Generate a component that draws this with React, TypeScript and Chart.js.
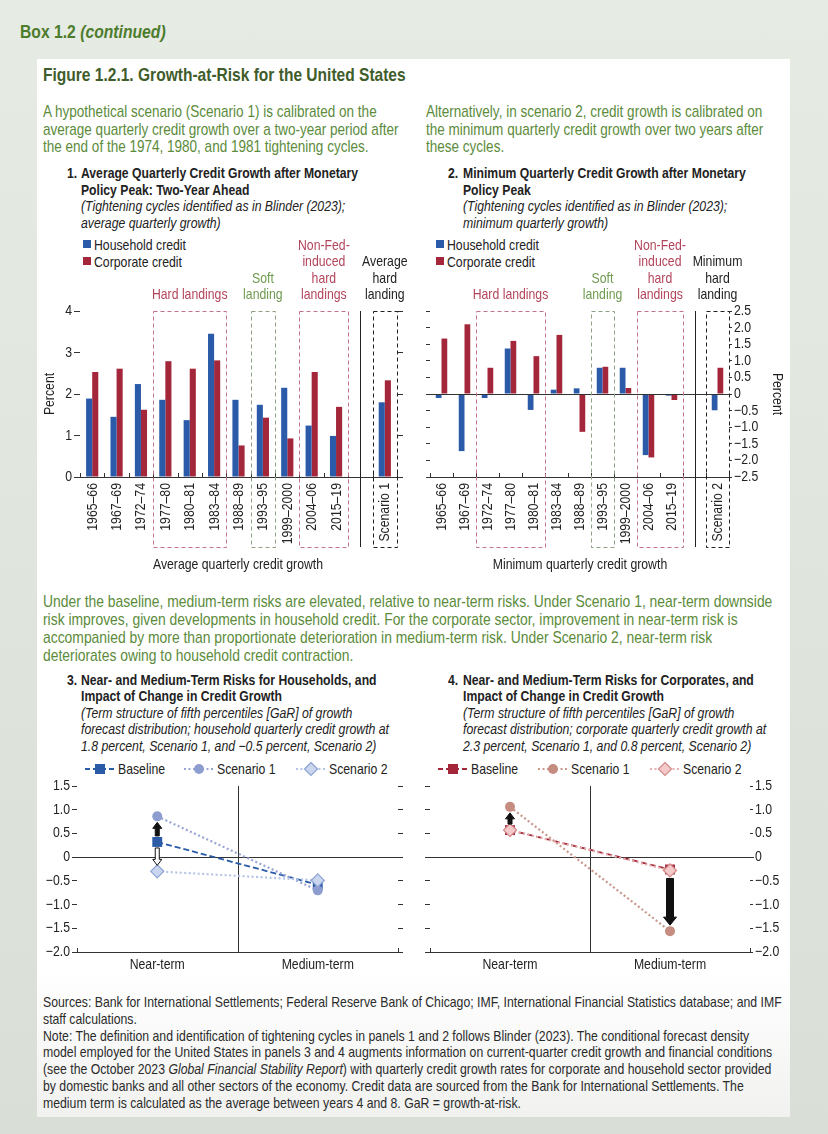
import React, { useEffect, useRef } from 'react';
import { Chart, registerables } from 'chart.js';

Chart.register(...registerables);

const FONT = '"Liberation Sans", Arial, sans-serif';
const S = 0.84; // horizontal condensing of all text

// ---------------- data ----------------
const periods = ['1965–66', '1967–69', '1972–74', '1977–80', '1980–81', '1983–84', '1988–89', '1993–95', '1999–2000', '2004–06', '2015–19'];
const panel1Labels = [...periods, '', 'Scenario 1'];
const panel2Labels = [...periods, '', 'Scenario 2'];

const avgHousehold = [1.89, 1.45, 2.24, 1.86, 1.37, 3.45, 1.86, 1.74, 2.15, 1.24, 0.99, null, 1.8];
const avgCorporate = [2.53, 2.61, 1.62, 2.79, 2.61, 2.81, 0.76, 1.43, 0.93, 2.53, 1.69, null, 2.33];
const minHousehold = [-0.12, -1.72, -0.12, 1.37, -0.48, 0.13, 0.17, 0.79, 0.79, -1.84, -0.05, null, -0.49];
const minCorporate = [1.67, 2.1, 0.79, 1.6, 1.14, 1.78, -1.14, 0.82, 0.18, -1.91, -0.18, null, 0.79];

const horizons = ['Near-term', 'Medium-term'];
const hhBaseline = [0.32, -0.58];
const hhScenario1 = [0.86, -0.7];
const hhScenario2 = [-0.3, -0.49];
const corpBaseline = [0.57, -0.26];
const corpScenario1 = [1.06, -1.56];
const corpScenario2 = [0.57, -0.28];

// category index ranges of the highlighted groups
const HARD_TXT = '#b3455a';
const HARD_BOX = '#c27385';
const SOFT_TXT = '#6e9a4f';
const SOFT_BOX = '#8fa184';
const panel1Groups = [
  { from: 3, to: 5, lines: ['Hard landings'], color: HARD_TXT, box: HARD_BOX },
  { from: 7, to: 7, lines: ['Soft', 'landing'], color: SOFT_TXT, box: SOFT_BOX },
  { from: 9, to: 10, lines: ['Non-Fed-', 'induced', 'hard', 'landings'], color: HARD_TXT, box: HARD_BOX },
  { from: 12, to: 12, lines: ['Average', 'hard', 'landing'], color: '#222', box: '#222' },
];
const panel2Groups = [
  { from: 2, to: 4, lines: ['Hard landings'], color: HARD_TXT, box: HARD_BOX },
  { from: 7, to: 7, lines: ['Soft', 'landing'], color: SOFT_TXT, box: SOFT_BOX },
  { from: 9, to: 10, lines: ['Non-Fed-', 'induced', 'hard', 'landings'], color: HARD_TXT, box: HARD_BOX },
  { from: 12, to: 12, lines: ['Minimum', 'hard', 'landing'], color: '#222', box: '#222' },
];

const BLUE = '#2b5ba8';
const RED = '#a3263a';

const fmt1 = (v: number) => {
  const r = Math.round(v * 10) / 10;
  if (r === 0) return '0';
  const s = Math.abs(r).toFixed(1);
  return r < 0 ? '\u2212' + s : s;
};
const fmt0 = (v: number) => String(Math.round(v));

// ---------------- canvas text helper (condensed) ----------------
function ctext(ctx: any, text: string, x: number, y: number, o: any = {}) {
  ctx.save();
  ctx.translate(x, y);
  if (o.rotate) ctx.rotate(o.rotate);
  ctx.scale(S, 1);
  ctx.font = `${o.bold ? 'bold ' : ''}${o.size || 14.6}px ${FONT}`;
  ctx.fillStyle = o.color || '#222';
  ctx.textAlign = o.align || 'center';
  ctx.textBaseline = 'middle';
  ctx.fillText(text, 0, 0);
  ctx.restore();
}

function drawAxisLabels(chart: any, o: any) {
  const { ctx, chartArea: ca } = chart;
  const xs = chart.scales.x;
  const labels: string[] = chart.data.labels;
  labels.forEach((t, i) => {
    if (!t) return;
    const px = xs.getPixelForValue(i);
    if (o.rotateX) ctext(ctx, t, px + 0.5, ca.bottom + 6, { rotate: -Math.PI / 2, align: 'right' });
    else ctext(ctx, t, px, ca.bottom + 13, { align: 'center' });
  });
  const ys = chart.scales.yl;
  ys.ticks.forEach((tk: any, i: number) => {
    const py = ys.getPixelForTick(i);
    const t = o.fmt(tk.value);
    if (o.leftLabels) ctext(ctx, t, ca.left - o.leftTick - 2, py, { align: 'right' });
    if (o.rightLabels) ctext(ctx, t, ca.right + o.rightTick + 2, py, { align: 'left' });
  });
  const cy = (ca.top + ca.bottom) / 2;
  if (o.leftTitle) ctext(ctx, 'Percent', ca.left - 30, cy, { rotate: -Math.PI / 2 });
  if (o.rightTitle) ctext(ctx, 'Percent', ca.right + 48, cy, { rotate: Math.PI / 2 });
}

// ---------------- plugins ----------------
const barDecor = {
  id: 'barDecor',
  afterDatasetsDraw(chart: any, _a: any, opts: any) {
    const { ctx, chartArea: ca } = chart;
    const xs = chart.scales.x;
    const ys = chart.scales.yl;
    const n = chart.data.labels.length;
    const step = (ca.right - ca.left) / n;
    drawAxisLabels(chart, opts);
    ctx.save();
    ctx.lineWidth = 1;
    ctx.strokeStyle = '#333';
    if (opts.zero) {
      const y0 = Math.round(ys.getPixelForValue(0)) + 0.5;
      ctx.beginPath();
      ctx.moveTo(ca.left, y0);
      ctx.lineTo(ca.right, y0);
      ctx.stroke();
    }
    for (let i = 0; i <= n; i++) {
      const px = Math.round(ca.left + i * step) + 0.5;
      ctx.beginPath();
      ctx.moveTo(px, ca.bottom);
      ctx.lineTo(px, ca.bottom - 4);
      ctx.stroke();
    }
    const bottom = ca.bottom + opts.extend;
    const sx = Math.round(xs.getPixelForValue(opts.sep)) + 0.5;
    ctx.strokeStyle = '#222';
    ctx.beginPath();
    ctx.moveTo(sx, ca.top);
    ctx.lineTo(sx, bottom);
    ctx.stroke();
    for (const g of opts.groups) {
      const l = xs.getPixelForValue(g.from) - step / 2;
      const r = xs.getPixelForValue(g.to) + step / 2;
      ctx.setLineDash([4, 3]);
      ctx.strokeStyle = g.box;
      ctx.strokeRect(Math.round(l) + 0.5, Math.round(ca.top) + 0.5, Math.round(r - l), Math.round(bottom - ca.top));
      ctx.setLineDash([]);
      const cx = (l + r) / 2;
      const lines: string[] = g.lines;
      lines.forEach((t, k) => {
        ctext(ctx, t, cx, ca.top - 16 - (lines.length - 1 - k) * 16.3, { color: g.color });
      });
    }
    ctx.restore();
  },
};

const lineDecor = {
  id: 'lineDecor',
  beforeDatasetsDraw(chart: any) {
    const { ctx, chartArea: ca } = chart;
    const xs = chart.scales.x;
    const ys = chart.scales.yl;
    ctx.save();
    ctx.lineWidth = 1;
    ctx.strokeStyle = '#333';
    const y0 = Math.round(ys.getPixelForValue(0)) + 0.5;
    ctx.beginPath();
    ctx.moveTo(ca.left - 4, y0);
    ctx.lineTo(ca.right + 4, y0);
    ctx.stroke();
    const mx = Math.round((xs.getPixelForValue(0) + xs.getPixelForValue(1)) / 2) + 0.5;
    ctx.beginPath();
    ctx.moveTo(mx, ca.top);
    ctx.lineTo(mx, ca.bottom);
    ctx.stroke();
    [ca.left, ca.right].forEach((x: number) => {
      const px = Math.round(x) + 0.5;
      ctx.beginPath();
      ctx.moveTo(px, ca.bottom);
      ctx.lineTo(px, ca.bottom - 4);
      ctx.stroke();
    });
    ctx.restore();
  },
  afterDatasetsDraw(chart: any, _a: any, opts: any) {
    const { ctx } = chart;
    const xs = chart.scales.x;
    const ys = chart.scales.yl;
    drawAxisLabels(chart, opts);
    ctx.save();
    for (const a of opts.arrows) {
      const x = xs.getPixelForValue(a.i);
      const y1 = ys.getPixelForValue(a.from);
      const y2 = ys.getPixelForValue(a.to);
      const dir = Math.sign(y2 - y1);
      const ya = y1 + dir * a.gapFrom;
      const ye = y2 - dir * a.gapTo;
      const hb = ye - dir * a.headLen;
      ctx.beginPath();
      ctx.moveTo(x - a.shaft / 2, ya);
      ctx.lineTo(x - a.shaft / 2, hb);
      ctx.lineTo(x - a.head / 2, hb);
      ctx.lineTo(x, ye);
      ctx.lineTo(x + a.head / 2, hb);
      ctx.lineTo(x + a.shaft / 2, hb);
      ctx.lineTo(x + a.shaft / 2, ya);
      ctx.closePath();
      ctx.fillStyle = a.fill;
      ctx.fill();
      ctx.strokeStyle = '#111';
      ctx.lineWidth = 1;
      ctx.stroke();
    }
    ctx.restore();
  },
};

// ---------------- configs ----------------
function barConfig(labels: string[], household: any[], corporate: any[], p: any) {
  return {
    type: 'bar',
    data: {
      labels,
      datasets: [
        { label: 'Household credit', data: household, backgroundColor: BLUE, yAxisID: 'yl', categoryPercentage: 0.5, barPercentage: 1 },
        { label: 'Corporate credit', data: corporate, backgroundColor: RED, yAxisID: 'yl', categoryPercentage: 0.5, barPercentage: 1 },
      ],
    },
    options: {
      responsive: false,
      animation: false,
      events: [],
      layout: { padding: { top: 76, left: 0, right: 0, bottom: 0 } },
      plugins: {
        legend: { display: false },
        tooltip: { enabled: false },
        barDecor: { groups: p.groups, sep: 11, extend: 70, zero: p.zero, rotateX: true, fmt: p.fmt, leftLabels: p.leftLabels, rightLabels: p.rightLabels, leftTitle: p.leftTitle, rightTitle: p.rightTitle, leftTick: p.leftTick, rightTick: p.rightTick },
      },
      scales: {
        x: {
          type: 'category',
          offset: true,
          grid: { display: true, drawOnChartArea: false, drawTicks: false },
          border: { display: true, color: '#333', width: 1 },
          ticks: { display: false, autoSkip: false },
          afterFit: (s: any) => { s.height = 88; },
        },
        yl: {
          type: 'linear',
          position: 'left',
          min: p.min,
          max: p.max,
          ticks: { stepSize: p.step, display: false, autoSkip: false },
          grid: { drawOnChartArea: false, drawTicks: true, tickLength: p.leftTick, color: '#333' },
          border: { display: false },
          afterFit: (s: any) => { s.width = p.leftW; },
        },
        yr: {
          type: 'linear',
          position: 'right',
          min: p.min,
          max: p.max,
          ticks: { stepSize: p.step, display: false, autoSkip: false },
          grid: { drawOnChartArea: false, drawTicks: true, tickLength: p.rightTick, color: '#333' },
          border: { display: false },
          afterFit: (s: any) => { s.width = p.rightW; },
        },
      },
    },
    plugins: [barDecor],
  };
}

function lineConfig(base: number[], s1: number[], s2: number[], c: any, p: any) {
  return {
    type: 'line',
    data: {
      labels: horizons,
      datasets: [
        { label: 'Baseline', data: base, yAxisID: 'yl', order: 3, borderColor: c.base, backgroundColor: c.base, borderWidth: 1.8, borderDash: [6, 3], pointStyle: 'rect', pointRadius: 7, pointBorderWidth: 0, pointBackgroundColor: c.base, pointBorderColor: c.base },
        { label: 'Scenario 1', data: s1, yAxisID: 'yl', order: 2, borderColor: c.s1Line, backgroundColor: c.s1, borderWidth: 2.2, borderDash: [2, 2.5], pointStyle: 'circle', pointRadius: 5, pointBorderWidth: 0, pointBackgroundColor: c.s1, pointBorderColor: c.s1 },
        { label: 'Scenario 2', data: s2, yAxisID: 'yl', order: 1, borderColor: c.s2Line, backgroundColor: c.s2Fill, borderWidth: 2.2, borderDash: [2, 2.5], pointStyle: 'rectRot', pointRadius: 6.5, pointBorderWidth: 1.3, pointBackgroundColor: c.s2Fill, pointBorderColor: c.s2Border },
      ],
    },
    options: {
      responsive: false,
      animation: false,
      events: [],
      layout: { padding: { top: 16, left: 0, right: 0, bottom: 0 } },
      plugins: {
        legend: { display: false },
        tooltip: { enabled: false },
        lineDecor: { arrows: p.arrows, rotateX: false, fmt: fmt1, leftLabels: p.leftLabels, rightLabels: p.rightLabels, leftTick: 5, rightTick: p.rightTick },
      },
      scales: {
        x: {
          type: 'category',
          offset: true,
          grid: { display: true, drawOnChartArea: false, drawTicks: false },
          border: { display: true, color: '#333', width: 1 },
          ticks: { display: false },
          afterFit: (s: any) => { s.height = 23; },
        },
        yl: {
          type: 'linear',
          position: 'left',
          min: -2,
          max: 1.5,
          ticks: { stepSize: 0.5, display: false, autoSkip: false },
          grid: { drawOnChartArea: false, drawTicks: true, tickLength: 5, color: '#333' },
          border: { display: false },
          afterFit: (s: any) => { s.width = p.leftW; },
        },
        yr: {
          type: 'linear',
          position: 'right',
          min: -2,
          max: 1.5,
          ticks: { stepSize: 0.5, display: false, autoSkip: false },
          grid: { drawOnChartArea: false, drawTicks: true, tickLength: p.rightTick, color: '#333' },
          border: { display: false },
          afterFit: (s: any) => { s.width = p.rightW; },
        },
      },
    },
    plugins: [lineDecor],
  };
}

// ---------------- components ----------------
function ChartBox({ left, top, width, height, make }: any) {
  const ref = useRef<HTMLCanvasElement>(null);
  useEffect(() => {
    const chart = new Chart(ref.current as HTMLCanvasElement, make() as any);
    return () => chart.destroy();
  }, []);
  return (
    <div style={{ position: 'absolute', left, top, width, height }}>
      <canvas ref={ref} width={width} height={height} style={{ width, height, display: 'block' }} />
    </div>
  );
}

function Txt({ x, y, size = 14.6, color = '#222', bold = false, italic = false, center = false, children }: any) {
  const lh = Math.round(size * 1.25);
  const style: React.CSSProperties = {
    position: 'absolute',
    top: y - lh / 2,
    lineHeight: lh + 'px',
    fontSize: size,
    fontFamily: FONT,
    fontWeight: bold ? 700 : 400,
    fontStyle: italic ? 'italic' : 'normal',
    color,
    whiteSpace: 'nowrap',
  };
  if (center) {
    style.left = x - 400;
    style.width = 800;
    style.textAlign = 'center';
    style.transform = `scaleX(${S})`;
    style.transformOrigin = '50% 50%';
  } else {
    style.left = x;
    style.transform = `scaleX(${S})`;
    style.transformOrigin = '0 50%';
  }
  return <div style={style}>{children}</div>;
}

function Square({ x, y, color }: any) {
  return <div style={{ position: 'absolute', left: x, top: y - 4, width: 8, height: 8, background: color }} />;
}

function LegendItem({ x, y, line, dash, marker, fill, stroke, label }: any) {
  return (
    <>
      <svg style={{ position: 'absolute', left: x, top: y - 7, overflow: 'visible' }} width={30} height={14}>
        <line x1={0} y1={7} x2={30} y2={7} stroke={line} strokeWidth={1.8} strokeDasharray={dash} />
        {marker === 'rect' && <rect x={10} y={2} width={10} height={10} fill={fill} />}
        {marker === 'circle' && <circle cx={15} cy={7} r={5} fill={fill} />}
        {marker === 'diamond' && <polygon points="15,0.5 21.5,7 15,13.5 8.5,7" fill={fill} stroke={stroke} strokeWidth={1.2} />}
      </svg>
      <Txt x={x + 33} y={y}>{label}</Txt>
    </>
  );
}

const GREEN_T = '#4d7c2d';
const GREEN_P = '#5b8b3b';
const HH = { base: '#2b5aa6', s1: '#8e9dcf', s1Line: '#98a6d5', s2Fill: '#c9d6ee', s2Border: '#8ca3d3', s2Line: '#b3c4e6' };
const CO = { base: '#a3263a', s1: '#c58d80', s1Line: '#c9968a', s2Fill: '#f4c9c9', s2Border: '#d48a8a', s2Line: '#e6b0b0' };

export default function App() {
  const leftPara = [
    'A hypothetical scenario (Scenario 1) is calibrated on the',
    'average quarterly credit growth over a two-year period after',
    'the end of the 1974, 1980, and 1981 tightening cycles.',
  ];
  const rightPara = [
    'Alternatively, in scenario 2, credit growth is calibrated on',
    'the minimum quarterly credit growth over two years after',
    'these cycles.',
  ];
  const midPara = [
    'Under the baseline, medium-term risks are elevated, relative to near-term risks. Under Scenario 1, near-term downside',
    'risk improves, given developments in household credit. For the corporate sector, improvement in near-term risk is',
    'accompanied by more than proportionate deterioration in medium-term risk. Under Scenario 2, near-term risk',
    'deteriorates owing to household credit contraction.',
  ];
  const notes: any[] = [
    'Sources: Bank for International Settlements; Federal Reserve Bank of Chicago; IMF, International Financial Statistics database; and IMF',
    'staff calculations.',
    'Note: The definition and identification of tightening cycles in panels 1 and 2 follows Blinder (2023). The conditional forecast density',
    'model employed for the United States in panels 3 and 4 augments information on current-quarter credit growth and financial conditions',
    <>(see the October 2023 <i>Global Financial Stability Report</i>) with quarterly credit growth rates for corporate and household sector provided</>,
    'by domestic banks and all other sectors of the economy. Credit data are sourced from the Bank for International Settlements. The',
    'medium term is calculated as the average between years 4 and 8. GaR = growth-at-risk.',
  ];

  return (
    <div style={{ position: 'absolute', left: 0, top: 0, width: 828, height: 1134, overflow: 'hidden', background: 'linear-gradient(#e6ebe3, #d9ded6)' }}>
      <div style={{ position: 'absolute', left: 37, top: 59, width: 753, height: 1058, background: 'linear-gradient(#ffffff 86%, #f1f2f0 100%)' }} />

      <Txt x={20} y={31} size={18.7} bold color={GREEN_T}>Box 1.2 <i>(continued)</i></Txt>
      <Txt x={43} y={74} size={18.5} bold color="#3f5d2b">Figure 1.2.1. Growth-at-Risk for the United States</Txt>

      {leftPara.map((t, i) => <Txt key={'lp' + i} x={43} y={111 + i * 17.6} size={16.1} color={GREEN_P}>{t}</Txt>)}
      {rightPara.map((t, i) => <Txt key={'rp' + i} x={426} y={111 + i * 17.6} size={16.1} color={GREEN_P}>{t}</Txt>)}

      {/* Panel 1 header */}
      <Txt x={67} y={173} size={14.5} bold>1.</Txt>
      <Txt x={81} y={173} size={14.5} bold>Average Quarterly Credit Growth after Monetary</Txt>
      <Txt x={81} y={189.5} size={14.5} bold>Policy Peak: Two-Year Ahead</Txt>
      <Txt x={81} y={206} italic>(Tightening cycles identified as in Blinder (2023);</Txt>
      <Txt x={81} y={222.5} italic>average quarterly growth)</Txt>
      <Square x={83} y={244} color={BLUE} />
      <Txt x={94} y={245}>Household credit</Txt>
      <Square x={83} y={261} color={RED} />
      <Txt x={94} y={262}>Corporate credit</Txt>

      {/* Panel 2 header */}
      <Txt x={448} y={173} size={14.5} bold>2.</Txt>
      <Txt x={463} y={173} size={14.5} bold>Minimum Quarterly Credit Growth after Monetary</Txt>
      <Txt x={463} y={189.5} size={14.5} bold>Policy Peak</Txt>
      <Txt x={463} y={206} italic>(Tightening cycles identified as in Blinder (2023);</Txt>
      <Txt x={463} y={222.5} italic>minimum quarterly growth)</Txt>
      <Square x={436} y={244} color={BLUE} />
      <Txt x={447} y={245}>Household credit</Txt>
      <Square x={436} y={261} color={RED} />
      <Txt x={447} y={262}>Corporate credit</Txt>

      <ChartBox left={40} top={235} width={380} height={330}
        make={() => barConfig(panel1Labels, avgHousehold, avgCorporate, { groups: panel1Groups, zero: false, min: 0, max: 4, step: 1, fmt: fmt0, leftLabels: true, rightLabels: false, leftTitle: true, rightTitle: false, leftW: 40, rightW: 23, leftTick: 6, rightTick: 6 })} />
      <ChartBox left={420} top={235} width={380} height={330}
        make={() => barConfig(panel2Labels, minHousehold, minCorporate, { groups: panel2Groups, zero: true, min: -2.5, max: 2.5, step: 0.5, fmt: fmt1, leftLabels: false, rightLabels: true, leftTitle: false, rightTitle: true, leftW: 10, rightW: 71, leftTick: 4, rightTick: 3 })} />

      <Txt x={238} y={564} center>Average quarterly credit growth</Txt>
      <Txt x={580} y={564} center>Minimum quarterly credit growth</Txt>

      {midPara.map((t, i) => <Txt key={'mp' + i} x={43} y={601 + i * 18} size={16.55} color={GREEN_P}>{t}</Txt>)}

      {/* Panel 3 header */}
      <Txt x={67} y={679.5} size={14.5} bold>3.</Txt>
      <Txt x={81} y={679.5} size={14.5} bold>Near- and Medium-Term Risks for Households, and</Txt>
      <Txt x={81} y={695.5} size={14.5} bold>Impact of Change in Credit Growth</Txt>
      <Txt x={81} y={712.5} italic>(Term structure of fifth percentiles [GaR] of growth</Txt>
      <Txt x={81} y={729.3} italic>forecast distribution; household quarterly credit growth at</Txt>
      <Txt x={81} y={746} italic>1.8 percent, Scenario 1, and −0.5 percent, Scenario 2)</Txt>
      <LegendItem x={85} y={769} line={HH.base} dash="5 3" marker="rect" fill={HH.base} label="Baseline" />
      <LegendItem x={184} y={769} line={HH.s1Line} dash="2 2.5" marker="circle" fill={HH.s1} label="Scenario 1" />
      <LegendItem x={296} y={769} line={HH.s2Line} dash="2 2.5" marker="diamond" fill={HH.s2Fill} stroke={HH.s2Border} label="Scenario 2" />

      {/* Panel 4 header */}
      <Txt x={448} y={679.5} size={14.5} bold>4.</Txt>
      <Txt x={463} y={679.5} size={14.5} bold>Near- and Medium-Term Risks for Corporates, and</Txt>
      <Txt x={463} y={695.5} size={14.5} bold>Impact of Change in Credit Growth</Txt>
      <Txt x={463} y={712.5} italic>(Term structure of fifth percentiles [GaR] of growth</Txt>
      <Txt x={463} y={729.3} italic>forecast distribution; corporate quarterly credit growth at</Txt>
      <Txt x={463} y={746} italic>2.3 percent, Scenario 1, and 0.8 percent, Scenario 2)</Txt>
      <LegendItem x={438} y={769} line={CO.base} dash="5 3" marker="rect" fill={CO.base} label="Baseline" />
      <LegendItem x={538} y={769} line={CO.s1Line} dash="2 2.5" marker="circle" fill={CO.s1} label="Scenario 1" />
      <LegendItem x={650} y={769} line={CO.s2Line} dash="2 2.5" marker="diamond" fill={CO.s2Fill} stroke={CO.s2Border} label="Scenario 2" />

      <ChartBox left={40} top={770} width={380} height={205}
        make={() => lineConfig(hhBaseline, hhScenario1, hhScenario2, HH, {
          leftLabels: true, rightLabels: false, leftW: 37, rightW: 22, rightTick: 5,
          arrows: [
            { i: 0, from: hhBaseline[0], to: hhScenario1[0], fill: '#111', shaft: 4, head: 9, headLen: 6, gapFrom: 6, gapTo: 6 },
            { i: 0, from: hhBaseline[0], to: hhScenario2[0], fill: '#ffffff', shaft: 4, head: 9, headLen: 6, gapFrom: 6, gapTo: 6 },
          ],
        })} />
      <ChartBox left={420} top={770} width={380} height={205}
        make={() => lineConfig(corpBaseline, corpScenario1, corpScenario2, CO, {
          leftLabels: false, rightLabels: true, leftW: 10, rightW: 50, rightTick: 3,
          arrows: [
            { i: 0, from: corpBaseline[0], to: corpScenario1[0], fill: '#111', shaft: 4, head: 9, headLen: 6, gapFrom: 6, gapTo: 6 },
            { i: 1, from: corpBaseline[1], to: corpScenario1[1], fill: '#111', shaft: 7, head: 13, headLen: 8, gapFrom: 9, gapTo: 6 },
          ],
        })} />

      {notes.map((t, i) => <Txt key={'n' + i} x={43} y={1002 + i * 16.8} color="#2b2b2b">{t}</Txt>)}
    </div>
  );
}
